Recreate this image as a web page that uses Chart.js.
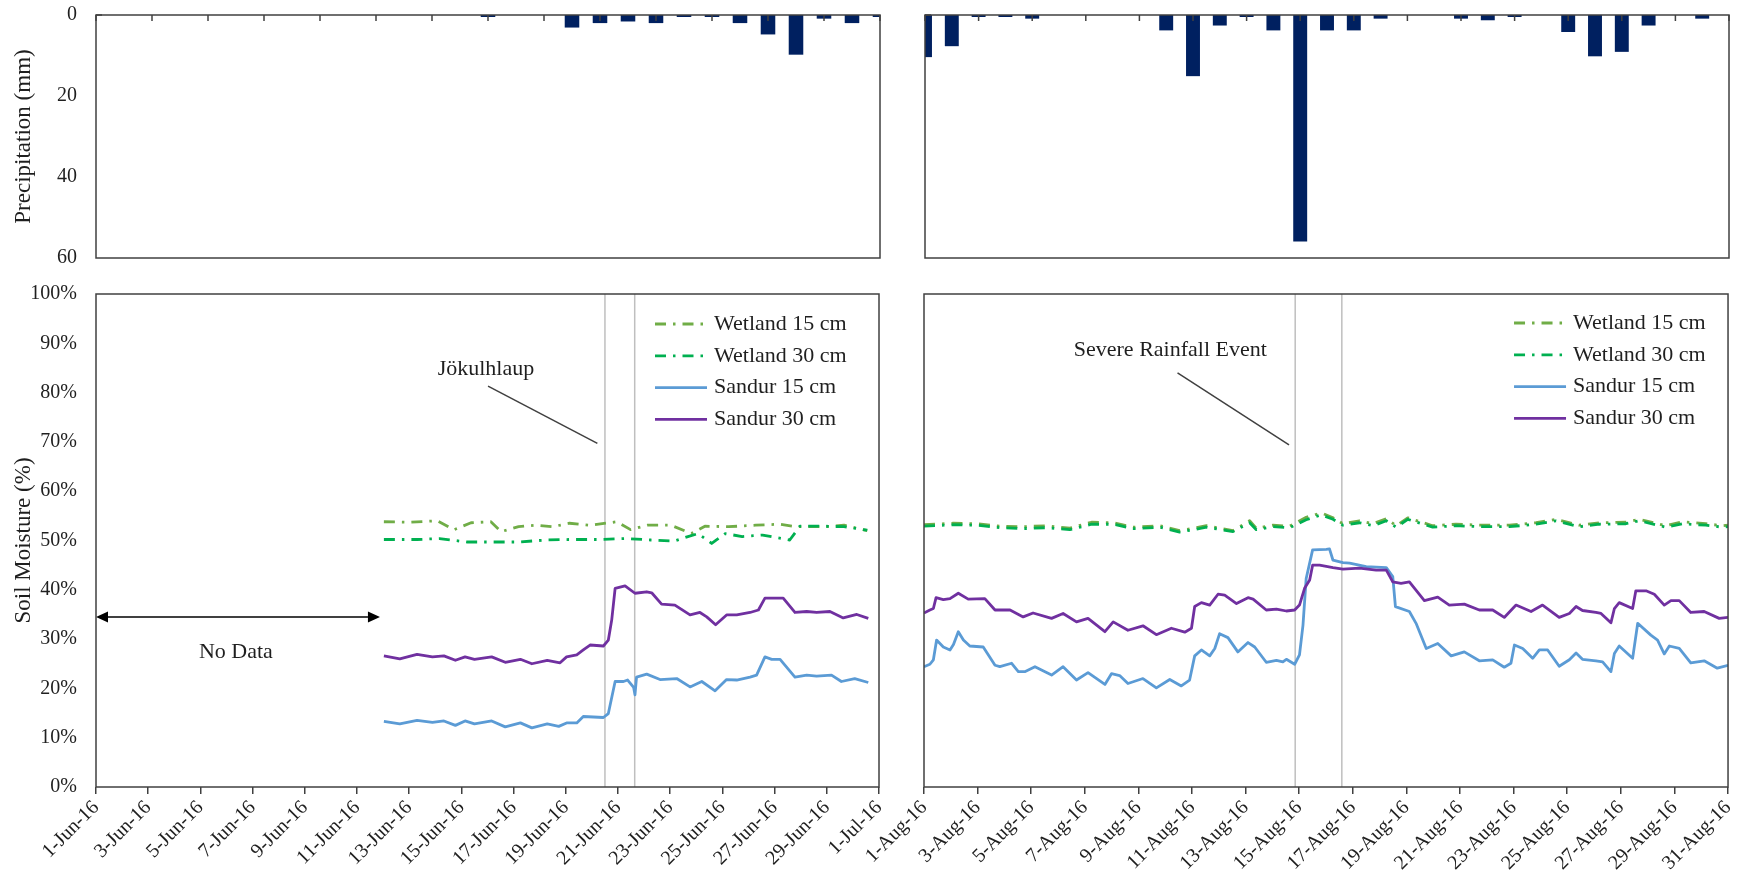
<!DOCTYPE html>
<html>
<head>
<meta charset="utf-8">
<script src="https://cdn.jsdelivr.net/npm/chart.js@4.4.1/dist/chart.umd.min.js"></script>
<style>
  html, body { margin: 0; padding: 0; background: #fff; }
  #wrap { position: relative; width: 1747px; height: 879px; overflow: hidden; background: #fff; }
  #wrap canvas { position: absolute; left: 0; top: 0; }
</style>
</head>
<body>
<div id="wrap">
  <canvas id="rainJun" width="1747" height="879"></canvas>
  <canvas id="rainAug" width="1747" height="879"></canvas>
  <canvas id="soilJun" width="1747" height="879"></canvas>
  <canvas id="soilAug" width="1747" height="879"></canvas>
</div>
<script>
// ---------- daily precipitation (mm) ----------
const junRainDays = ['1-Jun-16','2-Jun-16','3-Jun-16','4-Jun-16','5-Jun-16','6-Jun-16','7-Jun-16','8-Jun-16','9-Jun-16','10-Jun-16',
  '11-Jun-16','12-Jun-16','13-Jun-16','14-Jun-16','15-Jun-16','16-Jun-16','17-Jun-16','18-Jun-16','19-Jun-16','20-Jun-16',
  '21-Jun-16','22-Jun-16','23-Jun-16','24-Jun-16','25-Jun-16','26-Jun-16','27-Jun-16','28-Jun-16','29-Jun-16'];
const junRain = [0,0,0,0,0,0,0,0,0,0, 0,0,0,0,0.5,0,0,3.1,2.0,1.6, 2.0,0.5,0.5,2.0,4.8,9.8,0.9,2.0,0.5];

const augRainDays = ['1-Aug-16','2-Aug-16','3-Aug-16','4-Aug-16','5-Aug-16','6-Aug-16','7-Aug-16','8-Aug-16','9-Aug-16','10-Aug-16',
  '11-Aug-16','12-Aug-16','13-Aug-16','14-Aug-16','15-Aug-16','16-Aug-16','17-Aug-16','18-Aug-16','19-Aug-16','20-Aug-16',
  '21-Aug-16','22-Aug-16','23-Aug-16','24-Aug-16','25-Aug-16','26-Aug-16','27-Aug-16','28-Aug-16','29-Aug-16','30-Aug-16','31-Aug-16'];
const augRain = [10.4,7.7,0.5,0.5,0.9,0,0,0,0,3.8, 15.1,2.6,0.5,3.8,55.9,3.8,3.8,0.9,0,0, 0.9,1.3,0.5,0,4.2,10.2,9.1,2.6,0,0.9,0];

// ---------- date tick labels (every second day) ----------
const junTicks = ['1-Jun-16','3-Jun-16','5-Jun-16','7-Jun-16','9-Jun-16','11-Jun-16','13-Jun-16','15-Jun-16',
  '17-Jun-16','19-Jun-16','21-Jun-16','23-Jun-16','25-Jun-16','27-Jun-16','29-Jun-16','1-Jul-16'];
const augTicks = ['1-Aug-16','3-Aug-16','5-Aug-16','7-Aug-16','9-Aug-16','11-Aug-16','13-Aug-16','15-Aug-16',
  '17-Aug-16','19-Aug-16','21-Aug-16','23-Aug-16','25-Aug-16','27-Aug-16','29-Aug-16','31-Aug-16'];

// ---------- soil moisture, [day of month, %] ----------
const junWetland15 = [[12.03,53.8],[13.03,53.7],[14.07,54.0],[14.72,52.2],[15.37,53.6],[16.13,53.8],[16.52,51.8],[17.19,52.8],
  [17.84,53.1],[18.49,52.8],[19.14,53.5],[19.92,53.1],[20.96,53.8],[21.48,52.2],[22.13,53.1],[23.03,53.1],[23.81,51.4],
  [24.33,52.9],[25.24,52.8],[26.28,53.1],[27.19,53.3],[27.84,52.8],[28.88,52.8],[29.66,53.1],[30.55,52.0]];
const junWetland30 = [[12.03,50.2],[13.30,50.2],[14.16,50.4],[15.20,49.7],[16.25,49.7],[17.19,49.7],[18.23,50.1],[19.14,50.2],
  [20.18,50.2],[21.34,50.4],[22.26,50.1],[23.16,49.9],[23.68,50.8],[24.07,51.4],[24.59,49.4],[25.11,51.4],[25.76,50.8],
  [26.54,51.1],[27.58,50.1],[27.97,52.9],[28.88,52.9],[29.66,52.8],[30.55,52.1]];
const junSandur15 = [[12.03,13.3],[12.64,12.8],[13.30,13.5],[13.89,13.1],[14.33,13.4],[14.77,12.5],[15.14,13.4],[15.50,12.8],
  [16.16,13.4],[16.68,12.2],[17.26,13.0],[17.70,12.0],[18.29,12.8],[18.73,12.3],[19.03,13.0],[19.42,13.0],[19.67,14.3],
  [20.44,14.1],[20.63,14.9],[20.89,21.4],[21.21,21.4],[21.37,21.7],[21.60,20.2],[21.65,18.7],[21.71,22.3],[22.10,22.9],
  [22.61,21.8],[23.25,22.0],[23.76,20.3],[24.21,21.4],[24.72,19.5],[25.16,21.8],[25.55,21.7],[26.06,22.3],[26.31,22.7],
  [26.63,26.4],[26.89,25.9],[27.21,25.9],[27.78,22.3],[28.23,22.7],[28.61,22.5],[29.18,22.7],[29.56,21.4],[30.07,22.0],[30.59,21.2]];
const junSandur30 = [[12.03,26.6],[12.64,26.0],[13.30,26.9],[13.89,26.4],[14.33,26.6],[14.77,25.7],[15.14,26.4],[15.50,25.9],
  [16.16,26.4],[16.68,25.3],[17.26,25.9],[17.70,25.0],[18.29,25.7],[18.78,25.2],[19.03,26.4],[19.42,26.8],[19.67,27.8],
  [19.93,28.8],[20.44,28.6],[20.63,29.8],[20.76,33.9],[20.89,40.3],[21.27,40.8],[21.65,39.3],[22.10,39.6],[22.29,39.4],
  [22.67,37.1],[23.18,36.9],[23.76,34.9],[24.14,35.4],[24.40,34.5],[24.74,32.9],[25.16,34.9],[25.55,34.9],[26.06,35.4],
  [26.38,35.9],[26.63,38.3],[27.33,38.3],[27.78,35.4],[28.23,35.6],[28.61,35.4],[29.12,35.6],[29.63,34.3],[30.15,35.0],[30.59,34.2]];

const augWetland15 = [[1,53.2],[2.09,53.5],[2.96,53.4],[3.83,52.9],[4.70,52.8],[5.57,53.0],[6.44,52.5],[7.25,53.7],[8.06,53.6],
  [8.80,52.7],[9.80,53.0],[10.54,52.0],[11.54,53.0],[12.53,52.0],[13.15,54.0],[13.40,52.5],[14.02,53.1],[14.64,52.9],
  [15.26,54.7],[15.82,55.6],[16.26,54.6],[16.63,53.4],[17.25,54.0],[17.75,53.4],[18.25,54.4],[18.62,53.0],[19.05,54.6],
  [19.98,53.0],[20.85,53.3],[21.85,53.1],[22.84,53.1],[23.84,53.6],[24.58,54.3],[25.45,53.1],[26.20,53.6],[27.19,53.7],
  [27.69,54.3],[28.68,53.0],[29.30,53.8],[30.17,53.4],[30.79,53.0],[31,53.1]];
const augWetland30 = [[1,52.9],[2.09,53.2],[2.96,53.1],[3.83,52.6],[4.70,52.4],[5.57,52.6],[6.44,52.2],[7.25,53.3],[8.06,53.3],
  [8.80,52.4],[9.80,52.7],[10.54,51.7],[11.54,52.7],[12.53,51.8],[13.15,53.6],[13.40,52.2],[14.02,52.8],[14.64,52.6],
  [15.26,54.2],[15.82,55.2],[16.26,54.3],[16.63,53.1],[17.25,53.6],[17.75,53.0],[18.25,54.0],[18.62,52.7],[19.05,54.3],
  [19.98,52.7],[20.85,53.0],[21.85,52.8],[22.84,52.8],[23.84,53.3],[24.58,54.0],[25.45,52.8],[26.20,53.3],[27.19,53.4],
  [27.69,54.0],[28.68,52.7],[29.30,53.4],[30.17,53.1],[30.79,52.7],[31,52.8]];
const augSandur15 = [[1,24.4],[1.22,24.9],[1.35,25.8],[1.47,29.8],[1.72,28.4],[1.97,27.8],[2.10,28.9],[2.28,31.5],[2.47,29.8],
  [2.71,28.6],[3.21,28.4],[3.65,24.7],[3.83,24.4],[4.27,25.1],[4.52,23.4],[4.76,23.4],[5.14,24.4],[5.76,22.7],[6.19,24.4],
  [6.69,21.7],[7.12,23.2],[7.75,20.8],[8.00,23.0],[8.30,22.6],[8.61,21.0],[9.17,22.0],[9.67,20.1],[10.17,21.8],[10.60,20.5],
  [10.91,21.7],[11.10,26.6],[11.35,27.8],[11.66,26.6],[11.85,28.1],[12.03,31.1],[12.34,30.3],[12.71,27.4],[13.09,29.3],
  [13.34,28.4],[13.77,25.3],[14.15,25.7],[14.39,25.4],[14.52,25.9],[14.83,24.9],[15.01,26.8],[15.14,32.8],[15.26,42.3],
  [15.50,48.1],[16.01,48.2],[16.13,48.3],[16.26,46.0],[16.63,45.5],[16.88,45.4],[17.50,44.7],[18.25,44.5],[18.49,42.7],
  [18.59,36.6],[19.11,35.6],[19.36,33.2],[19.74,28.1],[20.17,29.1],[20.67,26.6],[21.16,27.4],[21.72,25.6],[22.22,25.8],
  [22.65,24.3],[22.90,25.1],[23.03,28.8],[23.34,28.1],[23.71,26.1],[23.96,27.8],[24.27,27.8],[24.70,24.5],[25.08,25.8],
  [25.33,27.2],[25.57,25.9],[26.07,25.6],[26.32,25.4],[26.63,23.4],[26.76,27.1],[26.94,28.6],[27.44,26.1],[27.63,33.2],
  [28.12,30.8],[28.37,29.8],[28.62,27.0],[28.81,28.6],[29.18,28.1],[29.61,25.2],[30.11,25.6],[30.60,24.1],[31,24.7]];
const augSandur30 = [[1,35.3],[1.22,35.9],[1.35,36.2],[1.45,38.4],[1.72,38.0],[1.97,38.2],[2.28,39.3],[2.65,38.1],[3.27,38.2],
  [3.65,35.9],[4.21,35.9],[4.70,34.5],[5.07,35.3],[5.76,34.2],[6.19,35.2],[6.69,33.5],[7.12,34.2],[7.75,31.5],[8.06,33.5],
  [8.61,31.8],[9.17,32.7],[9.67,30.9],[10.23,32.2],[10.73,31.4],[10.98,32.2],[11.10,36.6],[11.35,37.4],[11.66,36.9],
  [11.97,39.1],[12.22,38.9],[12.66,37.2],[13.09,38.4],[13.28,38.1],[13.77,35.9],[14.15,36.1],[14.52,35.7],[14.83,35.9],
  [15.01,36.9],[15.20,40.3],[15.39,42.0],[15.50,45.0],[15.76,45.0],[16.26,44.5],[16.63,44.2],[17.25,44.4],[17.87,44.0],
  [18.25,44.0],[18.49,41.6],[18.80,41.3],[19.11,41.6],[19.67,37.8],[20.17,38.5],[20.60,36.9],[21.16,37.1],[21.72,35.9],
  [22.22,35.9],[22.65,34.4],[23.09,36.9],[23.65,35.6],[24.08,36.9],[24.70,34.4],[25.08,35.2],[25.33,36.6],[25.57,35.8],
  [26.07,35.4],[26.26,35.2],[26.63,33.3],[26.76,36.2],[26.94,37.4],[27.44,36.2],[27.56,39.8],[27.94,39.8],[28.25,39.1],
  [28.62,36.9],[28.87,37.8],[29.18,37.8],[29.61,35.4],[30.11,35.6],[30.67,34.2],[31,34.4]];

// start / end of the two events (day of month)
const junEventTimes = [20.5, 21.64];
const augEventTimes = [14.85, 16.59];

// ---------- styling ----------
const W = 1747, H = 879;
const INK = '#1f1f1f', AXIS = '#404040';
const FONT = "'Liberation Serif', 'Times New Roman', serif";
const DASH_DOT = [11, 7, 2.5, 7];
const LINE_W = 2.8;
Chart.defaults.font.family = FONT;
Chart.defaults.color = INK;

// closed frame around the plot area plus inward tick marks
const frameTicks = {
  id: 'frameTicks',
  afterDraw(chart, args, o) {
    const { ctx, chartArea: a } = chart;
    ctx.save();
    ctx.strokeStyle = AXIS;
    ctx.lineWidth = 1.5;
    (o.marks || []).forEach(m => {
      const s = chart.scales[m.axis];
      let px = [];
      if (m.every) {
        for (let i = 0; i < s.getLabels().length; i += m.every) px.push(s.getPixelForValue(i));
      } else {
        px = s.ticks.map(t => s.getPixelForValue(t.value));
      }
      px.forEach(p => {
        ctx.beginPath();
        if (s.isHorizontal()) { ctx.moveTo(p, a.top); ctx.lineTo(p, a.top + m.len); }
        else { ctx.moveTo(a.left, p); ctx.lineTo(a.left + m.len, p); }
        ctx.stroke();
      });
    });
    ctx.strokeRect(a.left, a.top, a.right - a.left, a.bottom - a.top);
    ctx.restore();
  }
};

// legend inside the plot area, drawn from the datasets' own line styles
const lineLegend = {
  id: 'lineLegend',
  afterDraw(chart, args, o) {
    if (!o.right) return;
    const { ctx, chartArea: a } = chart;
    ctx.save();
    ctx.font = '22px ' + FONT;
    ctx.fillStyle = INK;
    ctx.textBaseline = 'middle';
    ctx.textAlign = 'left';
    chart.data.datasets.forEach((ds, i) => {
      const y = a.top + o.top + i * o.gap;
      const x0 = a.right - o.right;
      ctx.strokeStyle = ds.borderColor;
      ctx.lineWidth = ds.borderWidth;
      ctx.setLineDash(ds.borderDash || []);
      ctx.beginPath(); ctx.moveTo(x0, y); ctx.lineTo(x0 + 52, y); ctx.stroke();
      ctx.setLineDash([]);
      ctx.fillText(ds.label, x0 + 59, y);
    });
    ctx.restore();
  }
};

// event window lines, captions with leader lines, and the "No Data" arrow
const eventMarks = {
  id: 'eventMarks',
  beforeDatasetsDraw(chart, args, o) {
    if (!o.lines) return;
    const { ctx, chartArea: a, scales: { x } } = chart;
    ctx.save();
    ctx.strokeStyle = '#BFBFBF';
    ctx.lineWidth = 1.5;
    o.lines.forEach(t => {
      const px = x.getPixelForValue(t);
      ctx.beginPath(); ctx.moveTo(px, a.top); ctx.lineTo(px, a.bottom); ctx.stroke();
    });
    ctx.restore();
  },
  afterDatasetsDraw(chart, args, o) {
    const { ctx, scales: { x, y } } = chart;
    const P = p => [x.getPixelForValue(p[0]), y.getPixelForValue(p[1])];
    ctx.save();
    ctx.font = '22px ' + FONT;
    ctx.fillStyle = INK;
    ctx.textAlign = 'center';
    ctx.textBaseline = 'middle';
    (o.labels || []).forEach(l => { const [px, py] = P(l.at); ctx.fillText(l.text, px, py); });
    ctx.strokeStyle = AXIS;
    ctx.lineWidth = 1.5;
    (o.leaders || []).forEach(s => {
      const [x0, y0] = P(s.from), [x1, y1] = P(s.to);
      ctx.beginPath(); ctx.moveTo(x0, y0); ctx.lineTo(x1, y1); ctx.stroke();
    });
    (o.arrows || []).forEach(ar => {
      const [x0, y0] = P(ar.from), [x1] = P(ar.to);
      const hl = 12, hw = 5.5;
      ctx.strokeStyle = '#000'; ctx.fillStyle = '#000';
      ctx.beginPath(); ctx.moveTo(x0 + hl, y0); ctx.lineTo(x1 - hl, y0); ctx.stroke();
      ctx.beginPath(); ctx.moveTo(x0, y0); ctx.lineTo(x0 + hl, y0 - hw); ctx.lineTo(x0 + hl, y0 + hw); ctx.closePath(); ctx.fill();
      ctx.beginPath(); ctx.moveTo(x1, y0); ctx.lineTo(x1 - hl, y0 - hw); ctx.lineTo(x1 - hl, y0 + hw); ctx.closePath(); ctx.fill();
    });
    ctx.restore();
  }
};

Chart.register(frameTicks, lineLegend, eventMarks);

// value-axis labels sit 19px left of the frame; the gap is reserved as an
// invisible tick length so it does not push the plot area down
const LABEL_GAP = { display: false, drawTicks: true, tickLength: 19 };

function rainChart(id, labels, values, area, showY) {
  return new Chart(document.getElementById(id), {
    type: 'bar',
    data: { labels: labels, datasets: [{ data: values, backgroundColor: '#002060', borderWidth: 0, barPercentage: 0.52, categoryPercentage: 1 }] },
    options: {
      responsive: false, animation: false, events: [],
      layout: { padding: { left: showY ? 0 : area.left, top: area.top, right: W - area.right, bottom: H - area.bottom } },
      plugins: {
        legend: { display: false }, tooltip: { enabled: false },
        frameTicks: { marks: [{ axis: 'x', len: 6, every: 2 }, { axis: 'y', len: 6 }] }
      },
      scales: {
        x: { type: 'category', position: 'top', offset: false, grid: { display: false }, border: { display: false },
             ticks: { display: false }, afterFit: s => { s.height = 0; } },
        y: { reverse: true, min: 0, max: 60, grid: LABEL_GAP, border: { display: false },
             ticks: { display: showY, stepSize: 10, padding: 0, font: { size: 20 }, color: INK,
                      callback: v => (v % 20 === 0 ? v : '') },
             title: { display: showY, text: 'Precipitation (mm)', font: { size: 23 }, color: INK, padding: { top: 10, bottom: 0 } },
             afterFit: s => { s.width = showY ? area.left : 0; } }
      }
    }
  });
}

function pts(arr) { return arr.map(p => ({ x: p[0], y: p[1] })); }

function soilChart(id, tickLabels, s, area, showY, legend, marks) {
  return new Chart(document.getElementById(id), {
    type: 'line',
    data: {
      datasets: [
        { label: 'Wetland 15 cm', data: pts(s.w15), borderColor: '#70AD47', borderWidth: LINE_W, borderDash: DASH_DOT, order: 3 },
        { label: 'Wetland 30 cm', data: pts(s.w30), borderColor: '#00B050', borderWidth: LINE_W, borderDash: DASH_DOT, order: 2 },
        { label: 'Sandur 15 cm', data: pts(s.s15), borderColor: '#5B9BD5', borderWidth: LINE_W, order: 1 },
        { label: 'Sandur 30 cm', data: pts(s.s30), borderColor: '#7030A0', borderWidth: LINE_W, order: 0 }
      ]
    },
    options: {
      responsive: false, animation: false, events: [],
      elements: { point: { radius: 0 }, line: { tension: 0, borderCapStyle: 'butt', borderJoinStyle: 'round' } },
      layout: { padding: { left: showY ? 0 : area.left, top: area.top, right: W - area.right, bottom: 0 } },
      plugins: {
        legend: { display: false }, tooltip: { enabled: false },
        frameTicks: { marks: [{ axis: 'y', len: 7 }] },
        lineLegend: legend,
        eventMarks: marks
      },
      scales: {
        x: { type: 'linear', min: 1, max: 31,
             grid: { display: true, drawOnChartArea: false, drawTicks: true, tickLength: 7, color: AXIS, lineWidth: 1.5 },
             border: { display: false },
             ticks: { stepSize: 2, autoSkip: false, minRotation: 45, maxRotation: 45, padding: 2, font: { size: 20 }, color: INK,
                      callback: (v, i) => tickLabels[i] },
             afterFit: sc => { sc.height = H - area.bottom; } },
        y: { min: 0, max: 100, grid: LABEL_GAP, border: { display: false },
             ticks: { display: showY, stepSize: 10, padding: 0, font: { size: 20 }, color: INK, callback: v => v + '%' },
             title: { display: showY, text: 'Soil Moisture (%)', font: { size: 23 }, color: INK, padding: { top: 10, bottom: 0 } },
             afterFit: sc => { sc.width = showY ? area.left : 0; } }
      }
    }
  });
}

rainChart('rainJun', junRainDays, junRain, { left: 96, top: 15, right: 880, bottom: 258 }, true);
rainChart('rainAug', augRainDays, augRain, { left: 925, top: 15, right: 1729, bottom: 258 }, false);

soilChart('soilJun', junTicks,
  { w15: junWetland15, w30: junWetland30, s15: junSandur15, s30: junSandur30 },
  { left: 96, top: 294, right: 879, bottom: 787 }, true,
  { right: 224, top: 30, gap: 31.8 },
  { lines: junEventTimes,
    labels: [{ text: 'Jökulhlaup', at: [15.94, 84.8] }, { text: 'No Data', at: [6.36, 27.4] }],
    leaders: [{ from: [16.02, 81.3], to: [20.21, 69.7] }],
    arrows: [{ from: [1, 34.5], to: [11.88, 34.5] }] });

soilChart('soilAug', augTicks,
  { w15: augWetland15, w30: augWetland30, s15: augSandur15, s30: augSandur30 },
  { left: 924, top: 294, right: 1729, bottom: 787 }, false,
  { right: 214, top: 29, gap: 31.8 },
  { lines: augEventTimes,
    labels: [{ text: 'Severe Rainfall Event', at: [10.19, 88.6] }],
    leaders: [{ from: [10.46, 84.0], to: [14.62, 69.4] }] });
</script>
</body>
</html>
